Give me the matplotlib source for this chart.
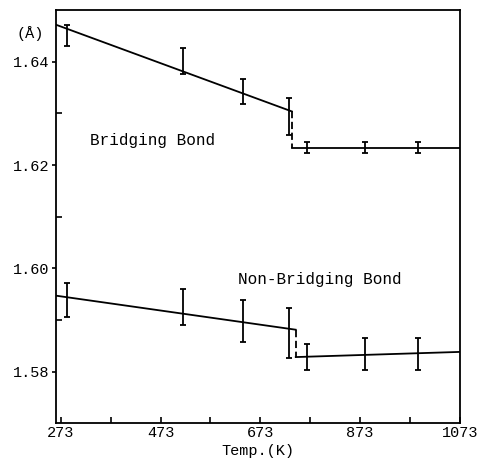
import matplotlib
matplotlib.use("Agg")
import matplotlib.pyplot as plt
from matplotlib.ticker import FixedLocator

# measured points (temperature in K)
temps = [285, 517, 638, 730, 766, 882, 990]

bridging = [1.6451, 1.6402, 1.6342, 1.6294, 1.6234, 1.6234, 1.6234]
bridging_err = [0.0021, 0.0025, 0.0024, 0.0036, 0.0010, 0.0011, 0.0011]

nonbridging = [1.5938, 1.5925, 1.5898, 1.5875, 1.5828, 1.5834, 1.5834]
nonbridging_err = [0.0033, 0.0034, 0.0040, 0.0049, 0.0025, 0.0031, 0.0031]

# fitted lines: low-temperature branch, high-temperature branch
b_low_T = [263, 736]
b_low_y = [1.6472, 1.6304]
b_high_T = [736, 1073]
b_high_y = [1.6234, 1.6234]

nb_low_T = [263, 744]
nb_low_y = [1.5947, 1.5881]
nb_high_T = [744, 1073]
nb_high_y = [1.5828, 1.5838]

xticks = [273, 473, 673, 873, 1073]
xminor = [373, 573, 773, 973]
yticks = [1.58, 1.60, 1.62, 1.64]
yminor = [1.59, 1.61, 1.63]

plt.rcParams['font.family'] = ['Liberation Mono', 'DejaVu Sans Mono']

fig = plt.figure(figsize=(4.82, 4.66), dpi=100)
ax = fig.add_axes([0.116, 0.092, 0.838, 0.886])

lw = 1.3
# bridging bond
ax.plot(b_low_T, b_low_y, color='black', lw=lw)
ax.plot(b_high_T, b_high_y, color='black', lw=lw)
ax.plot([b_low_T[1], b_low_T[1]], [b_low_y[1], b_high_y[0]], color='black', lw=lw, ls=(0, (4, 2)))
ax.errorbar(temps, bridging, yerr=bridging_err, fmt='none', ecolor='black',
            elinewidth=1.3, capsize=2.5, capthick=1.3)

# non-bridging bond
ax.plot(nb_low_T, nb_low_y, color='black', lw=lw)
ax.plot(nb_high_T, nb_high_y, color='black', lw=lw)
ax.plot([nb_low_T[1], nb_low_T[1]], [nb_low_y[1], nb_high_y[0]], color='black', lw=lw, ls=(0, (4, 2)))
ax.errorbar(temps, nonbridging, yerr=nonbridging_err, fmt='none', ecolor='black',
            elinewidth=1.3, capsize=2.5, capthick=1.3)

ax.set_xlim(263, 1073)
ax.set_ylim(1.570, 1.650)
ax.set_xticks(xticks)
ax.set_xticklabels([str(t) for t in xticks])
ax.xaxis.set_minor_locator(FixedLocator(xminor))
ax.set_yticks(yticks)
ax.set_yticklabels(["%.2f" % v for v in yticks])
ax.yaxis.set_minor_locator(FixedLocator(yminor))

ax.tick_params(axis='both', which='major', direction='out', length=3, width=1.2, labelsize=11, pad=2)
ax.tick_params(axis='x', which='major', direction='in', length=4)
ax.tick_params(axis='both', which='minor', direction='in', length=4, width=1.2)
for s in ax.spines.values():
    s.set_linewidth(1.3)

ax.set_xlabel("Temp.(K)", fontsize=11, labelpad=3)
fig.text(0.035, 0.928, "(Å)", fontsize=11, ha='left', va='center')

ax.text(0.085, 0.684, "Bridging Bond", transform=ax.transAxes, fontsize=11.5, va='center')
ax.text(0.450, 0.348, "Non-Bridging Bond", transform=ax.transAxes, fontsize=11.5, va='center')

fig.savefig("out.png", dpi=100)
